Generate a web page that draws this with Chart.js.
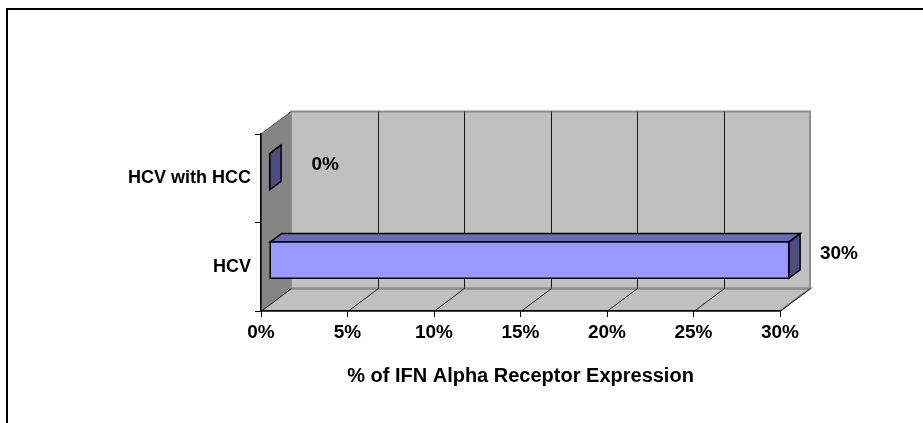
<!DOCTYPE html>
<html>
<head>
<meta charset="utf-8">
<script src="https://cdn.jsdelivr.net/npm/chart.js@4/dist/chart.umd.min.js"></script>
<style>
  html, body { margin: 0; padding: 0; background: #fff; }
  #wrap { position: relative; width: 923px; height: 423px; }
</style>
</head>
<body>
<div id="wrap"><canvas id="chart" width="923" height="423"></canvas></div>
<script>
// Categories and values (percent of IFN alpha receptor expression)
const categories = ['HCV with HCC', 'HCV'];
const expression = [0, 30];
const axisTicks = [0, 5, 10, 15, 20, 25, 30];
const axisTitle = '% of IFN Alpha Receptor Expression';

const FONT = '"Liberation Sans", Arial, Helvetica, sans-serif';
// 3D depth of the plot box, in pixels
const DEPTH_X = 30, DEPTH_Y = 22.5;
// bar slab sits between these fractions of the depth
const BAR_FRONT = 0.29, BAR_BACK = 0.67;

const wallPlugin = {
  id: 'walls',
  beforeDraw(chart) {
    const ctx = chart.ctx;
    const { left, right, top, bottom } = chart.chartArea;
    const xs = chart.scales.x;

    // outer frame (top and left edges)
    ctx.save();
    ctx.strokeStyle = '#000';
    ctx.lineWidth = 2;
    ctx.beginPath();
    ctx.moveTo(7, 423);
    ctx.lineTo(7, 9);
    ctx.lineTo(923, 9);
    ctx.stroke();

    // back wall
    ctx.fillStyle = '#c0c0c0';
    ctx.fillRect(left + DEPTH_X, top - DEPTH_Y, right - left, bottom - top);

    // side wall
    ctx.fillStyle = '#858585';
    ctx.beginPath();
    ctx.moveTo(left, top);
    ctx.lineTo(left + DEPTH_X, top - DEPTH_Y);
    ctx.lineTo(left + DEPTH_X, bottom - DEPTH_Y);
    ctx.lineTo(left, bottom);
    ctx.closePath();
    ctx.fill();
    ctx.strokeStyle = '#555';
    ctx.lineWidth = 1;
    ctx.stroke();

    // floor
    ctx.fillStyle = '#c0c0c0';
    ctx.beginPath();
    ctx.moveTo(left, bottom);
    ctx.lineTo(left + DEPTH_X, bottom - DEPTH_Y);
    ctx.lineTo(right + DEPTH_X, bottom - DEPTH_Y);
    ctx.lineTo(right, bottom);
    ctx.closePath();
    ctx.fill();
    ctx.strokeStyle = '#8c8c8c';
    ctx.lineWidth = 2;
    ctx.stroke();

    // back wall outline
    ctx.strokeStyle = '#8c8c8c';
    ctx.lineWidth = 2;
    ctx.strokeRect(left + DEPTH_X, top - DEPTH_Y, right - left, bottom - top);

    // gridlines on the back wall and across the floor
    ctx.strokeStyle = '#1a1a1a';
    ctx.lineWidth = 1;
    axisTicks.forEach((v, i) => {
      const px = Math.round(xs.getPixelForValue(v)) + 0.5;
      ctx.beginPath();
      ctx.moveTo(px, bottom);
      ctx.lineTo(px + DEPTH_X, bottom - DEPTH_Y);
      if (i > 0 && i < axisTicks.length - 1) {
        ctx.lineTo(px + DEPTH_X, top - DEPTH_Y);
      }
      ctx.stroke();
    });
    ctx.restore();
  },
  afterDatasetsDraw(chart) {
    const ctx = chart.ctx;
    const meta = chart.getDatasetMeta(0);
    const ox0 = BAR_FRONT * DEPTH_X, oy0 = -BAR_FRONT * DEPTH_Y;
    const ox1 = BAR_BACK * DEPTH_X, oy1 = -BAR_BACK * DEPTH_Y;
    ctx.save();
    ctx.strokeStyle = '#000';
    ctx.lineWidth = 1.5;
    ctx.lineJoin = 'miter';
    meta.data.forEach((el, i) => {
      const p = el.getProps(['x', 'y', 'base', 'height'], true);
      const t0 = p.y - p.height / 2 + oy0, b0 = p.y + p.height / 2 + oy0;
      const t1 = p.y - p.height / 2 + oy1, b1 = p.y + p.height / 2 + oy1;
      const l0 = p.base + ox0, r0 = p.x + ox0, l1 = p.base + ox1, r1 = p.x + ox1;
      const face = (pts, fill) => {
        ctx.beginPath();
        ctx.moveTo(pts[0][0], pts[0][1]);
        for (let k = 1; k < pts.length; k++) ctx.lineTo(pts[k][0], pts[k][1]);
        ctx.closePath();
        ctx.fillStyle = fill;
        ctx.fill();
        ctx.stroke();
      };
      // top face
      face([[l0, t0], [r0, t0], [r1, t1], [l1, t1]], '#6b6bb3');
      // end face
      face([[r0, t0], [r1, t1], [r1, b1], [r0, b0]], '#4d4d80');
      // front face
      face([[l0, t0], [r0, t0], [r0, b0], [l0, b0]], '#9999ff');

      // value label
      ctx.fillStyle = '#000';
      ctx.font = 'bold 19px ' + FONT;
      ctx.textAlign = 'right';
      ctx.textBaseline = 'middle';
      ctx.fillText(expression[i] + '%', p.x + 78, p.y - 13);
    });
    ctx.restore();
  }
};

new Chart(document.getElementById('chart'), {
  type: 'bar',
  data: {
    labels: categories,
    datasets: [{
      data: expression,
      backgroundColor: 'rgba(0,0,0,0)',
      borderWidth: 0,
      barPercentage: 0.41,
      categoryPercentage: 1
    }]
  },
  options: {
    indexAxis: 'y',
    responsive: false,
    animation: false,
    events: [],
    layout: { padding: { left: 0, right: 143, top: 134, bottom: 31 } },
    plugins: { legend: { display: false }, tooltip: { enabled: false } },
    scales: {
      x: {
        min: 0,
        max: 30,
        afterBuildTicks(scale) { scale.ticks = axisTicks.map(v => ({ value: v })); },
        afterFit(scale) { scale.height = 81; },
        grid: { drawOnChartArea: false, drawTicks: true, tickLength: 6, color: '#000' },
        border: { color: '#000', width: 1.5 },
        ticks: {
          color: '#000',
          padding: 4,
          maxRotation: 0,
          font: { family: FONT, size: 19, weight: 'bold' },
          callback: v => v + '%'
        },
        title: {
          display: true,
          text: axisTitle,
          color: '#000',
          font: { family: FONT, size: 20, weight: 'bold' },
          padding: { top: 4, bottom: 4 }
        }
      },
      y: {
        afterFit(scale) { scale.width = 261; },
        grid: { drawOnChartArea: false, drawTicks: true, tickLength: 6, color: '#000', offset: true },
        border: { color: '#000', width: 1.5 },
        ticks: {
          color: '#000',
          padding: 4,
          font: { family: FONT, size: 18, weight: 'bold' }
        }
      }
    }
  },
  plugins: [wallPlugin]
});
</script>
</body>
</html>
